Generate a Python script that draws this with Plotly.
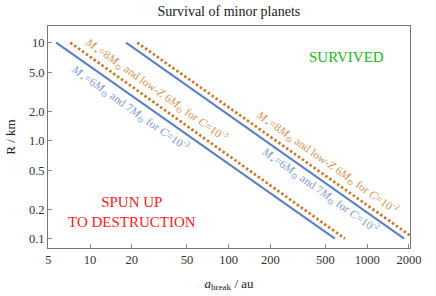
import numpy as np
import plotly.graph_objects as go

# ---- data ----
R_ends = [10, 0.1]                 # km
a_blue_C3 = [5.7, 585]             # M*=6 and 7 Msun, C=1e-3
a_orange_C3 = [7.2, 692]           # M*=8 Msun and low-Z 6 Msun, C=1e-3
a_blue_C2 = [18.2, 1850]           # M*=6 and 7 Msun, C=1e-2
a_orange_C2 = [21.9, 2200]         # M*=8 Msun and low-Z 6 Msun, C=1e-2

x_ticks = [5, 10, 20, 50, 100, 200, 500, 1000, 2000]
x_ticktext = ["5", "10", "20", "50", "100", "200", "500", "1000", "2000"]
y_ticks = [0.1, 0.2, 0.5, 1.0, 2.0, 5.0, 10]
y_ticktext = ["0.1", "0.2", "0.5", "1.0", "2.0", "5.0", "10"]

BLUE = "#5b7fbf"
ORANGE = "#c8792b"
BLUE_TXT = "#7f9bd0"
ORANGE_TXT = "#d99352"
FONT = "Liberation Serif, DejaVu Serif, serif"

fig = go.Figure()
for a, col, dash, w in [
    (a_blue_C3, BLUE, "solid", 2),
    (a_orange_C3, ORANGE, "2.5px,2.3px", 2.7),
    (a_blue_C2, BLUE, "solid", 2),
    (a_orange_C2, ORANGE, "2.5px,2.3px", 2.7),
]:
    fig.add_trace(go.Scatter(x=a, y=R_ends, mode="lines",
                             line=dict(color=col, width=w, dash=dash),
                             showlegend=False, hoverinfo="skip"))

lab_or_3 = "<i>M</i><sub>⋆</sub>=8<i>M</i><sub>⊙</sub> and low-<i>Z</i> 6<i>M</i><sub>⊙</sub> for <i>C</i>=10<sup>-3</sup>"
lab_bl_3 = "<i>M</i><sub>⋆</sub>=6<i>M</i><sub>⊙</sub> and 7<i>M</i><sub>⊙</sub> for <i>C</i>=10<sup>-3</sup>"
lab_or_2 = "<i>M</i><sub>⋆</sub>=8<i>M</i><sub>⊙</sub> and low-<i>Z</i> 6<i>M</i><sub>⊙</sub> for <i>C</i>=10<sup>-2</sup>"
lab_bl_2 = "<i>M</i><sub>⋆</sub>=6<i>M</i><sub>⊙</sub> and 7<i>M</i><sub>⊙</sub> for <i>C</i>=10<sup>-2</sup>"

ANG = 35.2
for txt, a, r, col in [
    (lab_or_3, 30.4, 3.29, ORANGE_TXT),
    (lab_bl_3, 19.45, 2.16, BLUE_TXT),
    (lab_or_2, 513, 0.607, ORANGE_TXT),
    (lab_bl_2, 456, 0.314, BLUE_TXT),
]:
    fig.add_annotation(x=np.log10(a), y=np.log10(r), xref="x", yref="y",
                       text=txt, showarrow=False, textangle=ANG,
                       font=dict(family=FONT, size=11.5, color=col))

fig.add_annotation(x=np.log10(714), y=np.log10(7.14), xref="x", yref="y",
                   text="SURVIVED", showarrow=False,
                   font=dict(family=FONT, size=15, color="#22b522"))
fig.add_annotation(x=np.log10(20.1), y=np.log10(0.187), xref="x", yref="y",
                   text="SPUN UP<br>TO DESTRUCTION", showarrow=False,
                   font=dict(family=FONT, size=15, color="#ff2020"))

axis_common = dict(showgrid=False, zeroline=False, showline=True, mirror=True,
                   linecolor="#777", linewidth=1, ticks="inside", ticklen=4,
                   tickcolor="#888", automargin=False,
                   tickfont=dict(family=FONT, size=12.5, color="#333"))

fig.update_xaxes(type="log", range=[0.6966, 3.309], tickvals=x_ticks, ticktext=x_ticktext,
                 title=dict(text="<i>a</i><sub>break</sub> / au", standoff=12,
                            font=dict(family=FONT, size=13, color="#222")),
                 **axis_common)
fig.update_yaxes(type="log", range=[-1.095, 1.170], tickvals=y_ticks, ticktext=y_ticktext,
                 title=dict(text="R / km", standoff=10,
                            font=dict(family=FONT, size=13, color="#222")),
                 **axis_common)

fig.update_layout(
    width=436, height=296,
    margin=dict(l=48, r=26, t=26, b=48, autoexpand=False),
    paper_bgcolor="white", plot_bgcolor="white",
    title=dict(text="Survival of minor planets", x=0.525, xanchor="center",
               y=0.962, yanchor="middle", automargin=False,
               font=dict(family=FONT, size=14, color="#222")),
)

# remove the default 8px page margin so the figure fills the window exactly
fig.write_html("out.html",
               config={"displayModeBar": False},
               post_script="document.body.style.margin='0';document.body.style.padding='0';")
